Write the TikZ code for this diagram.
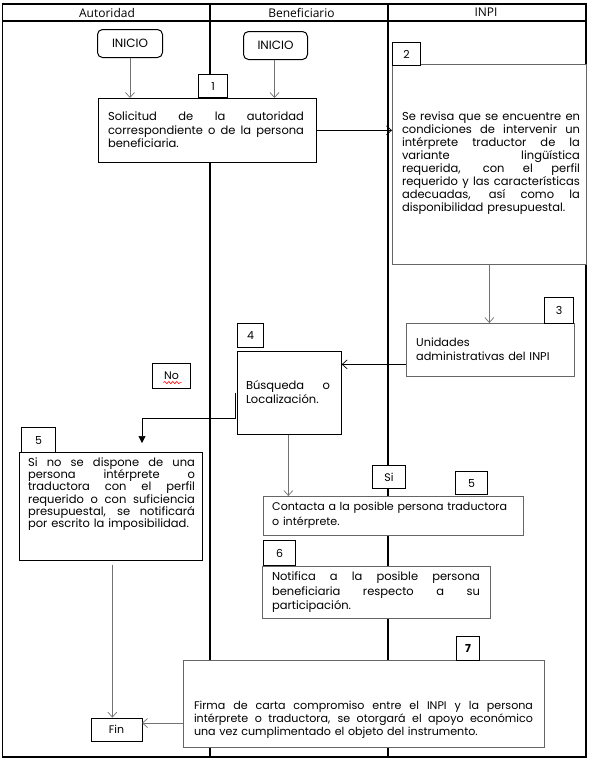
\documentclass[tikz,border=0pt]{standalone}
\usepackage{fontspec}
\setmainfont{Poppins}
\newfontfamily\hdfont{Open Sans}
\usetikzlibrary{arrows.meta,decorations.pathmorphing}
\def\jw{100pt}
\newcommand\J[1]{\leavevmode{\spaceskip=0pt\xspaceskip=0pt\hbox to \jw{#1}}}
\begin{document}
\begin{tikzpicture}[x=1pt,y=-1pt,
  frame/.style={line width=1.1pt, draw=black},
  box/.style={draw=black!60, fill=white, line width=0.7pt, inner sep=0pt, anchor=north west},
  blk/.style={box, draw=black},
  num/.style={draw=black, fill=white, line width=1.1pt, inner sep=0pt, anchor=north west, font=\fontsize{11}{12}\selectfont},
  txt/.style={inner sep=0pt, align=left, font=\fontsize{11.5}{13}\selectfont},
  startbox/.style={draw=black, fill=white, rounded corners=5pt, line width=1pt, inner sep=0pt, anchor=north west, font=\fontsize{12}{13}\selectfont},
  hd/.style={inner sep=0pt, font=\hdfont\fontsize{12}{13}\selectfont},
  arr/.style={-{Straight Barb[length=5pt,width=9pt]}, draw=black!55, line width=0.7pt},
  arrk/.style={arr, draw=black},
  arrf/.style={-{Triangle[length=7pt,width=7pt]}, draw=black, line width=0.7pt}]
\useasboundingbox (0,0) rectangle (590,761);
\fill[white] (0,0) rectangle (590,761);
% frame, lanes
\draw[frame] (2.7,4) rectangle (586,757);
\draw[frame] (2.7,21) -- (586,21);
\draw[frame] (210,4) -- (210,757);
\draw[frame] (388,4) -- (388,757);
\node[hd] (hA) at (107,12.5) {Autoridad};
\node[hd] (hB) at (301.5,12.5) {Beneficiario};
\node[hd] (hC) at (486,12.5) {INPI};
% start nodes
\node[startbox, minimum width=65pt, minimum height=28pt] (ini1) at (97,29) {INICIO};
\node[startbox, minimum width=64pt, minimum height=28pt] (ini2) at (243,31) {INICIO};
% boxes
\node[blk, minimum width=218pt, minimum height=64pt] (b1) at (98,98) {};
\node[box, minimum width=194pt, minimum height=200pt] (b2) at (392,64) {};
\node[box, minimum width=168pt, minimum height=53pt] (b3) at (406,323) {};
\node[blk, minimum width=104pt, minimum height=83pt] (b4) at (237,351) {};
\node[blk, minimum width=183pt, minimum height=108pt] (b5) at (19,452) {};
\node[box, minimum width=260pt, minimum height=39pt] (bc) at (263,496) {};
\node[box, minimum width=228pt, minimum height=52pt] (b6) at (262,566) {};
\node[box, minimum width=361pt, minimum height=87pt] (b7) at (183,660) {};
\node[blk, minimum width=51pt, minimum height=23pt, font=\fontsize{11}{12}\selectfont, anchor=center] (fin) at (116.5,729.5) {Fin};
% number labels
\node[num, minimum width=29pt, minimum height=23pt] (n1) at (198,74) {1};
\node[num, minimum width=28pt, minimum height=23pt] (n2) at (392,42) {2};
\node[num, minimum width=29pt, minimum height=26pt] (n3) at (544,297) {3};
\node[num, minimum width=26pt, minimum height=24pt] (n4) at (237,323) {4};
\node[num, minimum width=34pt, minimum height=25pt] (n5) at (21,427) {5};
\node[num, minimum width=33pt, minimum height=23pt] (si) at (372,465) {Si};
\node[num, minimum width=32pt, minimum height=23pt] (n5b) at (455,471) {5};
\node[num, minimum width=32pt, minimum height=25pt] (n6) at (263,540) {6};
\node[num, minimum width=23pt, minimum height=24pt, font=\bfseries\fontsize{11}{12}\selectfont] (n7) at (456,636) {7};
\node[num, minimum width=38pt, minimum height=25pt] (no) at (152,363) {No};
\draw[red, line width=0.6pt, decorate, decoration={snake, amplitude=1.1pt, segment length=4pt}] ([xshift=-8pt,yshift=-6.5pt]no.center) -- ++(18,0);
% texts
\node[txt, text width=196pt, font=\fontsize{11.5}{13.5}\selectfont] (t1) at (206,130) {\def\jw{196pt}\J{Solicitud de la autoridad}\\\J{correspondiente o de la persona}\\beneficiaria.};
\node[txt, text width=178pt] (t2) at (491,163) {\def\jw{178pt}\J{Se revisa que se encuentre en}\\\J{condiciones de intervenir un}\\\J{intérprete traductor de la}\\\J{variante lingüística}\\\J{requerida, con el perfil}\\\J{requerido y las características}\\\J{adecuadas, así como la}\\disponibilidad presupuestal.};
\node[txt, text width=150pt, anchor=west, font=\fontsize{11.3}{14}\selectfont] (t3) at (416,349) {Unidades\\administrativas del INPI};
\node[txt, text width=84pt, font=\fontsize{11.5}{14}\selectfont] (t4) at (288,392) {\def\jw{84pt}\J{Búsqueda o}\\Localización.};
\node[txt, text width=167pt, font=\fontsize{11.5}{12.3}\selectfont] (t5) at (111.5,494) {\def\jw{167pt}\J{Si no se dispone de una}\\\J{persona intérprete o}\\\J{traductora con el perfil}\\\J{requerido o con suficiencia}\\\J{presupuestal, se notificará}\\por escrito la imposibilidad.};
\node[txt, text width=245pt, anchor=west, font=\fontsize{11.1}{15}\selectfont] (tc) at (272,515) {Contacta a la posible persona traductora\\o intérprete.};
\node[txt, text width=208pt, font=\fontsize{11.5}{14.5}\selectfont] (t6) at (376,592.5) {\def\jw{208pt}\J{Notifica a la posible persona}\\\J{beneficiaria respecto a su}\\participación.};
\node[txt, text width=339pt, font=\fontsize{11.1}{13}\selectfont] (t7) at (363.5,720) {\def\jw{339pt}\J{Firma de carta compromiso entre el INPI y la persona}\\\J{intérprete o traductora, se otorgará el apoyo económico}\\una vez cumplimentado el objeto del instrumento.};
% connectors
\coordinate (a5) at (142,443);
\coordinate (a7) at (142,723);
\draw[arr] (ini1.south) -- (ini1.south |- b1.north);
\draw[arr] ([xshift=-1pt]ini2.south) -- ([xshift=-1pt]ini2.south |- b1.north);
\draw[arrk] (b1.east) -- (b1.east -| b2.west);
\draw[arr] (b2.south) -- (b2.south |- b3.north);
\draw[arrk] ([yshift=-14.5pt]b3.west) -- ([yshift=-14.5pt]b3.west -| b4.east);
\draw[arrf] ([xshift=-1.5pt]b4.west) -- ([xshift=-1.5pt,yshift=-25pt]b4.west) -| (a5);
\draw[arr] ([xshift=-1pt]b4.south) -- ([xshift=-1pt]b4.south |- bc.north);
\draw[arr] ([xshift=1.5pt,yshift=-4pt]b5.south) -- ([xshift=1.5pt]b5.south |- fin.north);
\draw[arr] (a7 -| b7.west) -- (a7);
\end{tikzpicture}
\end{document}
